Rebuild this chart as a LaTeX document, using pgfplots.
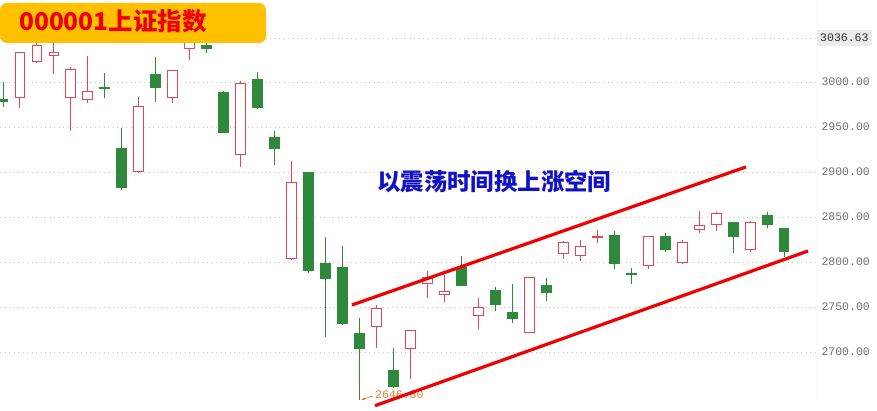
\documentclass[border=0pt]{standalone}
\usepackage{pgfplots}
\pgfplotsset{compat=1.18}
\usepackage{pgfplotstable}
\usetikzlibrary{arrows.meta}
\usepackage{fontspec}
\setmainfont{Liberation Sans}
\setmonofont{Liberation Mono}
\newfontfamily\cjk{Noto Sans CJK SC}

\definecolor{candlered}{RGB}{226,70,82}
\definecolor{candlegreen}{RGB}{46,138,58}
\definecolor{gridcol}{RGB}{196,196,196}
\definecolor{axiscol}{RGB}{222,222,222}
\definecolor{labelgray}{RGB}{110,110,110}
\definecolor{titlebg}{RGB}{255,192,0}
\definecolor{titlered}{RGB}{236,0,0}
\definecolor{textblue}{RGB}{18,18,196}
\definecolor{annot}{RGB}{232,120,50}
\definecolor{trendred}{RGB}{240,0,0}

\pgfplotstableread{
i open high low close
1 2980 3000 2972.2 2977.8
2 2982.2 3033.3 2971.1 3032.2
3 3022.2 3046.7 3021 3040
4 3028.9 3045 3008.9 3032.2
5 2982.2 3016.7 2945.6 3014.4
6 2980 3028.9 2976.7 2988.9
7 2993.5 3010 2982.2 2993
8 2925.6 2948.9 2880 2882.2
9 2900 2983.3 2899 2972.2
10 3007.8 3027.8 2977.8 2994.4
11 2982.2 3013 2976.7 3012.2
12 3036.7 3057.8 3024.4 3051.1
13 3040 3048.9 3032.2 3036.7
14 2987.8 2990 2943.3 2944.4
15 2918.9 3001.1 2905.6 2997.8
16 3003.3 3011.1 2970 2971.1
17 2937.8 2945.6 2907.8 2925.6
18 2804.4 2912.2 2802.2 2887.8
19 2898.9 2900 2787.8 2790
20 2797.8 2827.8 2716.7 2781.1
21 2793.3 2817.8 2730 2731.1
22 2720 2737.8 2646.8 2703.3
23 2727.8 2752.2 2704.4 2747.8
24 2678.9 2704.4 2660 2661.1
25 2703.3 2724.4 2670 2723.3
26 2775.6 2790 2760 2782.2
27 2763.3 2785.6 2755.6 2766.7
28 2794.4 2806.7 2774 2774.4
29 2740 2760 2725.6 2748.9
30 2767.8 2772.2 2745.6 2752.2
31 2743.3 2775.6 2732.2 2736.7
32 2721.1 2782.2 2721 2782.2
33 2774.4 2782.2 2756.7 2765.6
34 2808.9 2823.3 2803.3 2821.1
35 2806.7 2824.4 2801.1 2816.7
36 2827.5 2835.6 2821.1 2828
37 2828.9 2834.4 2792.2 2797.8
38 2787 2793.3 2775.6 2786.5
39 2795.6 2828.5 2792.2 2827.8
40 2827.8 2832.2 2811.1 2813.3
41 2798.9 2824.4 2798 2821.1
42 2835.6 2856.7 2832.2 2840
43 2841.1 2855 2834.4 2854.4
44 2843.3 2844 2810 2827.8
45 2814.4 2845 2811.1 2844.4
46 2851.1 2855.6 2837.8 2841.1
47 2836.7 2837.5 2805.6 2811.1
}\candles

\begin{document}
\begin{tikzpicture}
\useasboundingbox (0pt,0pt) rectangle (877pt,411pt);
\begin{axis}[
  at={(0pt,0pt)}, anchor=south west,
  scale only axis, width=817pt, height=411pt,
  xmin=0.8233, xmax=48.94, ymin=2634.4, ymax=3091.1,
  axis line style={draw=none},
  xtick=\empty,
  ytick={2700,2750,2800,2850,2900,2950,3000},
  extra y ticks={3048.9},
  extra y tick labels={3036.63},
  extra y tick style={yticklabel style={fill=black!8, text=black!80, inner xsep=3.5pt, inner ysep=4pt, xshift=-1.5pt}},
  ymajorgrids,
  grid style={gridcol, line width=0.9pt, dash pattern=on 0.9pt off 3.6pt},
  yticklabel pos=right,
  major tick length=0pt,
  yticklabel style={font=\ttfamily\fontsize{11.5}{12}\selectfont, text=labelgray, anchor=west, xshift=1pt,
    /pgf/number format/fixed, /pgf/number format/fixed zerofill, /pgf/number format/precision=2,
    /pgf/number format/1000 sep={}, /pgf/number format/assume math mode=true},
]
\draw[axiscol, line width=1pt] (rel axis cs:1,0.0195) -- (rel axis cs:1,1);
\pgfplotsinvokeforeach{0,...,46}{%
  \pgfplotstablegetelem{#1}{i}\of\candles\edef\cdI{\pgfplotsretval}%
  \pgfplotstablegetelem{#1}{open}\of\candles\edef\cdO{\pgfplotsretval}%
  \pgfplotstablegetelem{#1}{high}\of\candles\edef\cdH{\pgfplotsretval}%
  \pgfplotstablegetelem{#1}{low}\of\candles\edef\cdL{\pgfplotsretval}%
  \pgfplotstablegetelem{#1}{close}\of\candles\edef\cdC{\pgfplotsretval}%
  \pgfmathsetmacro\cdXl{\cdI-0.29}%
  \pgfmathsetmacro\cdXr{\cdI+0.29}%
  \pgfmathtruncatemacro\cdUp{\cdC>=\cdO ? 1 : 0}%
  \ifnum\cdUp=1 \def\cdCol{candlered}\def\cdFill{white}\else\def\cdCol{candlegreen}\def\cdFill{candlegreen}\fi
  \edef\cdTemp{%
    \noexpand\addplot[draw=\cdCol, line width=1pt, forget plot] coordinates {(\cdI,\cdH) (\cdI,\cdL)};%
    \noexpand\addplot[draw=\cdCol, fill=\cdFill, line width=1pt, forget plot] coordinates {(\cdXl,\cdO) (\cdXr,\cdO) (\cdXr,\cdC) (\cdXl,\cdC)} -- cycle;%
  }\cdTemp
}
% low annotation
\draw[annot, line width=0.7pt, -{Stealth[length=4pt,width=3pt]}] (axis cs:22.79,2651.1) -- (axis cs:22.1,2646.9);
\node[anchor=west, inner sep=0pt, text=annot, font=\ttfamily\fontsize{11.5}{12}\selectfont] at (axis cs:22.91,2653) {2646.80};
% trend channel
\addplot[trendred, line width=3.2pt, forget plot] coordinates {(21.55,2752.2) (44.76,2905.6)};
\addplot[trendred, line width=3.2pt, forget plot] coordinates {(22.91,2640.3) (48.41,2812.2)};
\end{axis}
% title box
\fill[titlebg, rounded corners=7pt] (0pt,368pt) rectangle (266pt,408pt);
\node[anchor=west, inner sep=0pt, text=titlered, font=\cjk\bfseries\fontsize{24.5}{30}\selectfont] at (19pt,390pt) {000001上证指数};
% annotation text
\node[anchor=west, inner sep=0pt, text=textblue, font=\cjk\bfseries\fontsize{23.4}{28}\selectfont] at (377pt,229pt) {以震荡时间换上涨空间};
\end{tikzpicture}
\end{document}
